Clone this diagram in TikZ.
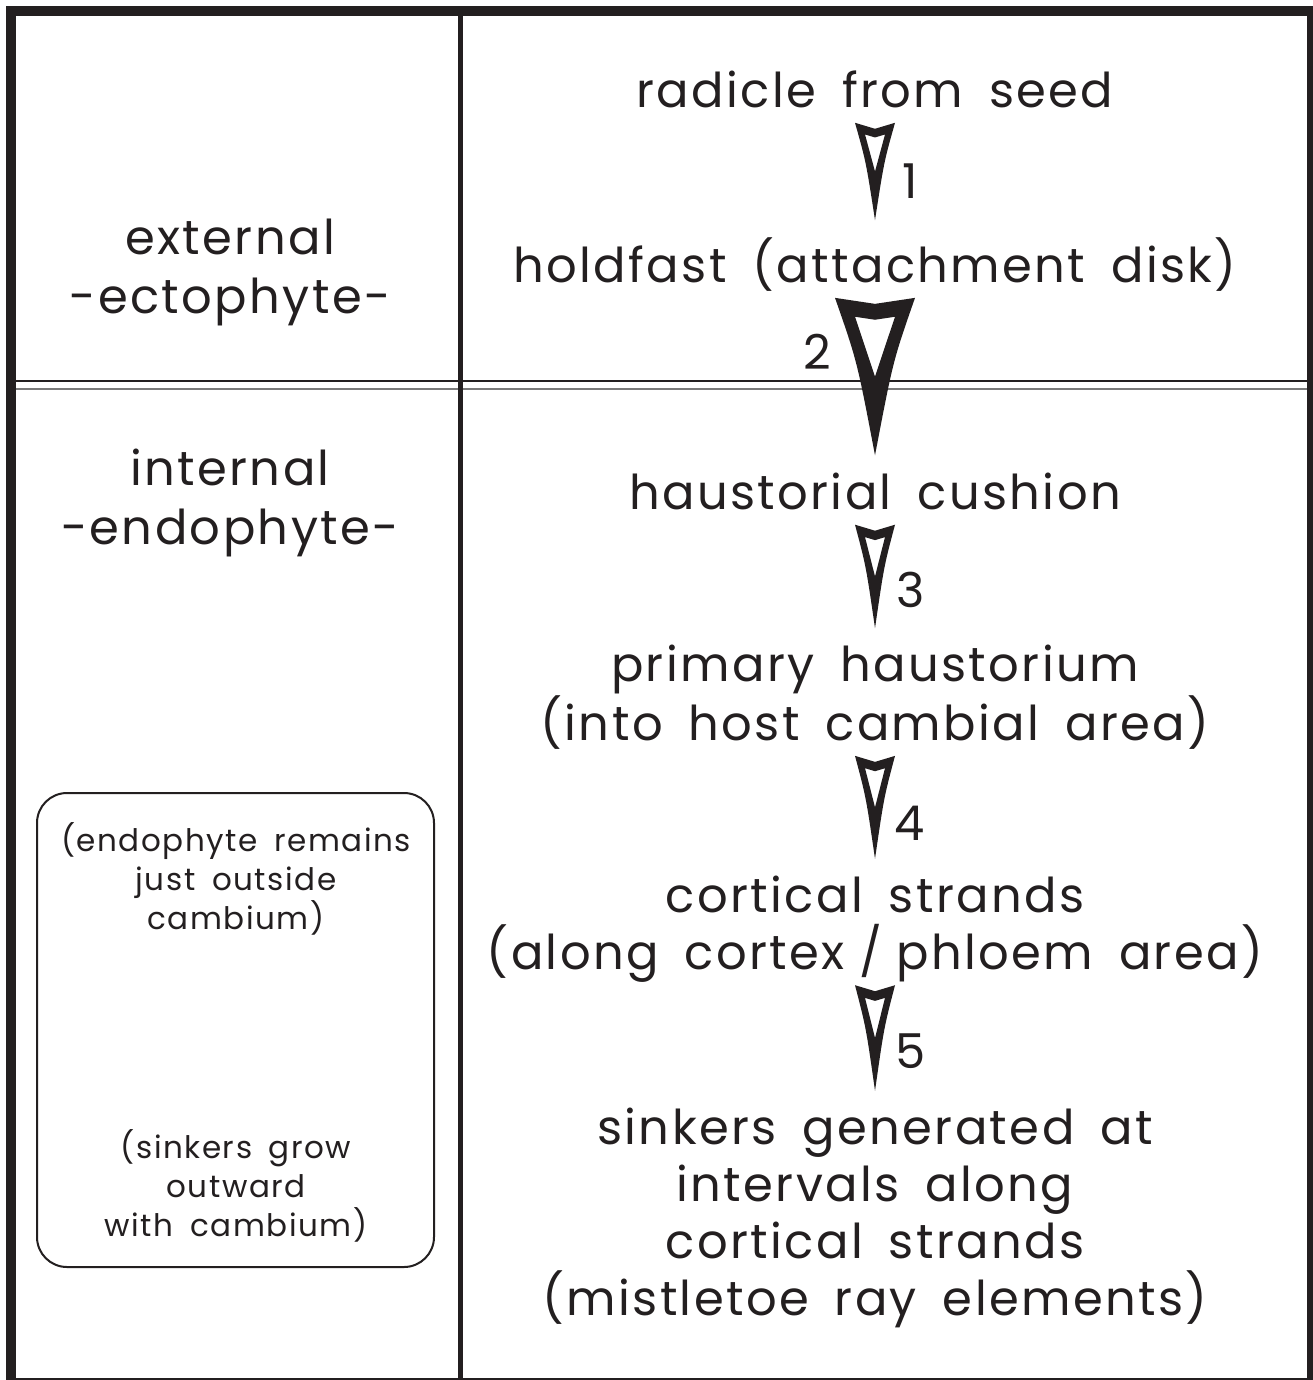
\documentclass[tikz,border=0pt]{standalone}
\usepackage{fontspec}
\setmainfont[WordSpace=1.7, LetterSpace=5]{Poppins}
\usepackage{xcolor}
\definecolor{mtink}{HTML}{231F20}
\definecolor{mtgray}{HTML}{7A7A7A}
\usetikzlibrary{calc,positioning}
\tikzset{
  mttext/.style ={inner sep=0pt, align=center, text=mtink, text depth=0.25em,
                  font=\fontsize{48}{57}\selectfont},
  mtside/.style ={mttext, font=\fontsize{48}{59}\selectfont},
  mtsmall/.style={inner sep=0pt, align=center, text=mtink,
                  font=\fontsize{31}{39}\selectfont},
  mtnum/.style  ={inner sep=0pt, text=mtink, font=\fontsize{48}{57}\selectfont},
  mtframe/.style={draw=mtink, line width=10pt},
  mtrule/.style ={draw=mtink, line width=5pt},
  mtnote/.style ={draw=mtink, line width=2pt, rounded corners=30pt,
                  minimum width=397pt, minimum height=474pt},
  mtspike/.style={fill=mtink, even odd rule},
}
% spike: #1 half width, from node #2 down to node #3
\newcommand{\spike}[3]{%
  \path ($(#2.south)+(0,13)$) coordinate (sptop)
        ($(#3.north)+(0,-17)$) coordinate (sptip);
  \fill[mtspike]
    ($(sptop)+(-#1,0)$) -- ($(sptop)+(0,6)$) -- ($(sptop)+(#1,0)$)
    .. controls ($(sptop)!0.4!(sptip)+(0.45*#1,0)$) .. (sptip)
    .. controls ($(sptop)!0.4!(sptip)+(-0.45*#1,0)$) .. cycle
    ($(sptop)!0.12!(sptip)+(-0.5*#1,0)$) -- ($(sptop)!0.12!(sptip)+(0,3)$)
    -- ($(sptop)!0.12!(sptip)+(0.5*#1,0)$) -- ($(sptop)!0.5!(sptip)$) -- cycle;
}

\begin{document}
\begin{tikzpicture}[x=1pt, y=-1pt]
  \useasboundingbox (0,0) rectangle (1313,1380);
  \fill[white] (0,0) rectangle (1313,1380);

  % table lines
  \draw[mtink, line width=1.5pt] (16,381) -- (1307,381);
  \draw[mtgray, line width=2pt] (16,389) -- (1307,389);
  \draw[mtrule] (460,11) -- (460,1380);
  \draw[mtframe] (11,11) rectangle (1312,1383);

  % left column
  \node[mtside] (ecto) at (230,267) {external\\-ectophyte-};
  \node[mtside] (endo) at (230,498) {internal\\-endophyte-};
  \node[mtnote] (notes) at (235.5,1030) {};
  \node[mtsmall] (remain) at (236,879) {(endophyte remains\\just outside\\cambium)};
  \node[mtsmall] (grow) at (236,1186) {(sinkers grow\\outward\\with cambium)};

  % right column
  \node[mttext] (radicle)  at (875,90)  {radicle from seed};
  \node[mttext] (holdfast) at (875,261) {holdfast (attachment disk)};
  \node[mttext] (cushion)  at (875,492) {haustorial cushion};
  \node[mttext] (primary)  at (875,694) {primary haustorium\\(into host cambial area)};
  \node[mttext] (cortical) at (875,924) {cortical strands\\(along cortex\hspace{0.3em}/\hspace{0.3em}phloem area)};
  \node[mttext] (sinkers)  at (875,1213) {sinkers generated at\\intervals along\\cortical strands\\(mistletoe ray elements)};

  \spike{20}{radicle}{holdfast}
  \spike{40}{holdfast}{cushion}
  \spike{20}{cushion}{primary}
  \spike{20}{primary}{cortical}
  \spike{20}{cortical}{sinkers}

  \node[mtnum] (n1) at (910,181)  {1};
  \node[mtnum] (n2) at (817,352)  {2};
  \node[mtnum] (n3) at (911,590)  {3};
  \node[mtnum] (n4) at (910,823)  {4};
  \node[mtnum] (n5) at (911,1051) {5};
\end{tikzpicture}
\end{document}
